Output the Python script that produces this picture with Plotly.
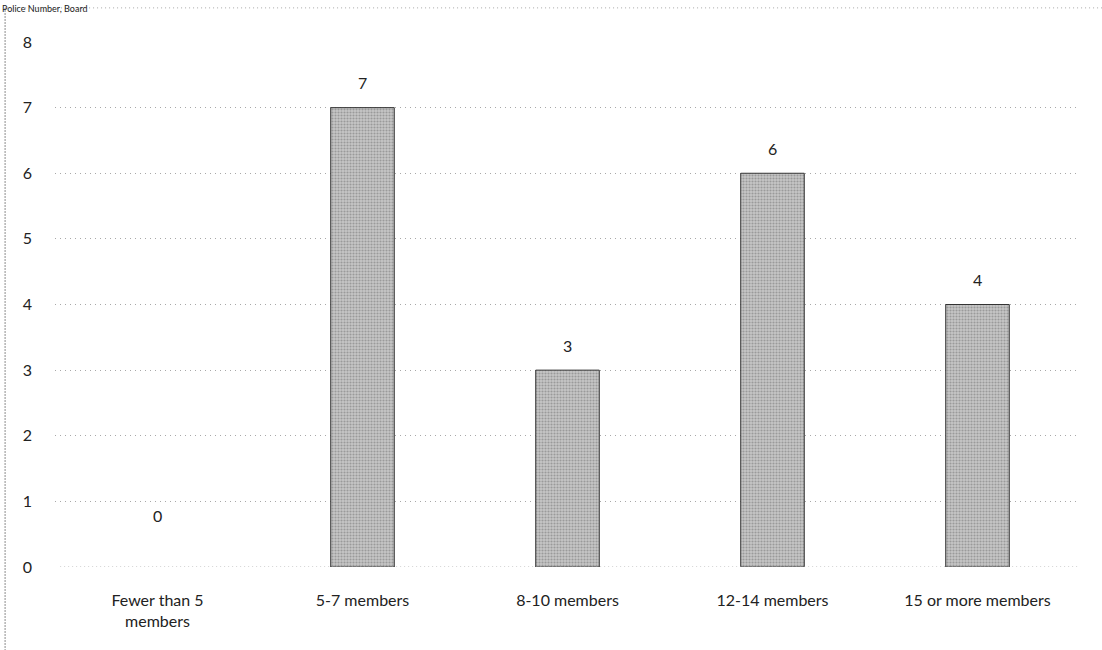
import plotly.graph_objects as go

# Board size categories and counts
categories = ["Fewer than 5<br>members", "5-7 members", "8-10 members", "12-14 members", "15 or more members"]
counts = [0, 7, 3, 6, 4]
y_ticks = [0, 1, 2, 3, 4, 5, 6, 7, 8]

FONT = "Lato, 'Open Sans', sans-serif"
GRID = "#a8a8a8"

fig = go.Figure()
fig.add_trace(go.Bar(
    x=categories,
    y=counts,
    width=0.31,
    marker=dict(
        color="#aaaaaa",
        line=dict(color="#333333", width=[0 if v == 0 else 1 for v in counts]),
        pattern=dict(shape=".", fgcolor="#6e6e6e", bgcolor="#c6c6c6", size=3, solidity=0.4),
    ),
))

fig.update_layout(
    width=1102, height=650,
    margin=dict(l=55, r=22, t=42, b=83),
    paper_bgcolor="white", plot_bgcolor="white",
    showlegend=False,
    font=dict(family=FONT, size=16, color="#222"),
    xaxis=dict(showgrid=False, showline=False, ticks="", ticklabelstandoff=22,
               tickfont=dict(size=16, color="#222")),
    yaxis=dict(
        range=[0, 8], tickvals=y_ticks, showline=False, ticks="",
        showgrid=True, gridcolor=GRID, gridwidth=1, griddash="1px,4px",
        zeroline=False,
        tickfont=dict(size=16, color="#222"), ticklabelstandoff=22,
    ),
    shapes=[
        # chart frame: left edge and top edge, dotted
        dict(type="line", xref="paper", yref="paper", x0=-0.0487, x1=-0.0487, y0=-0.16, y1=1.065,
             line=dict(color="#8c8c8c", width=1, dash="2px,1px")),
        dict(type="line", xref="paper", yref="paper", x0=-0.0487, x1=1.03, y0=1.065, y1=1.065,
             line=dict(color=GRID, width=1, dash="1px,3px")),
        # baseline at zero, dotted like the gridlines
        dict(type="line", xref="paper", yref="y", x0=0.005, x1=1, y0=0, y1=0,
             line=dict(color=GRID, width=1, dash="1px,3px")),
    ],
)

# chart heading along the top edge
fig.add_annotation(
    text="Police Number, Board", xref="paper", yref="paper", x=-0.0536, y=1.079,
    xanchor="left", yanchor="top", showarrow=False,
    font=dict(size=9, color="#222", family=FONT),
)

# value labels sitting above each bar
for cat, v in zip(categories, counts):
    fig.add_annotation(
        x=cat, y=v, text=str(v), showarrow=False,
        yanchor="middle", yshift=52 if v == 0 else 25,
        font=dict(size=16, color="#222", family=FONT),
    )

fig.write_html("out.html")
